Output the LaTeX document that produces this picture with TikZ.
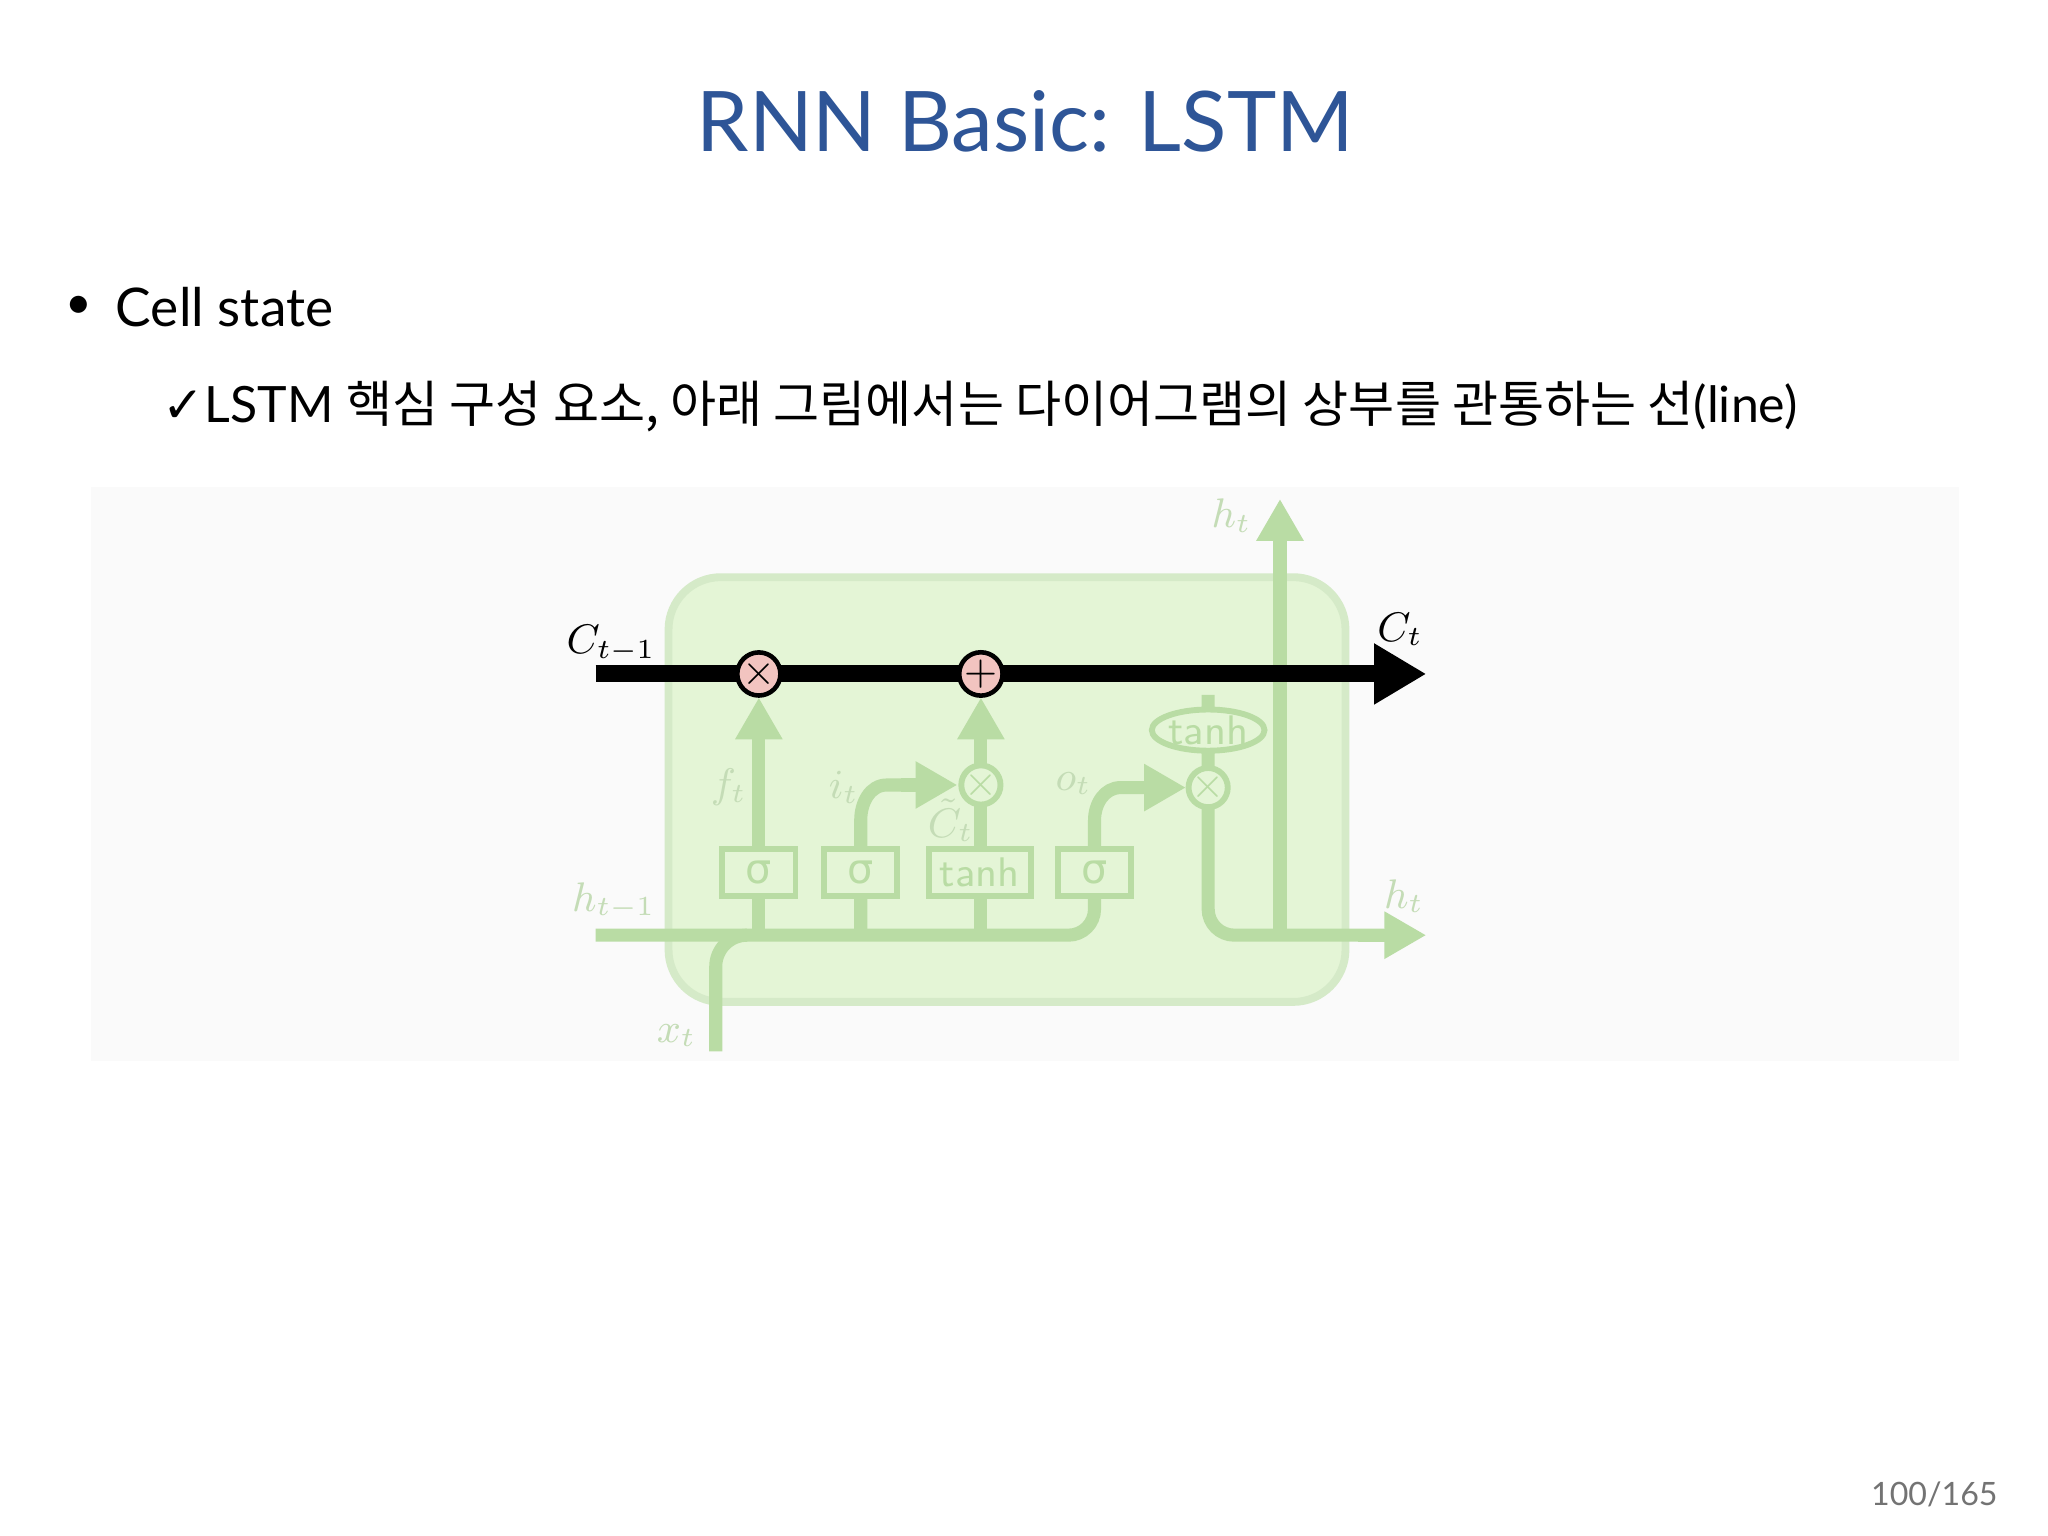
\documentclass[tikz,border=0pt]{standalone}
\usepackage{fontspec}
\setmainfont{Lato}
\newfontfamily\kr{Noto Sans CJK KR}
\newfontfamily\djv{DejaVu Sans}
\usetikzlibrary{arrows.meta,shapes.geometric}
\definecolor{ttl}{HTML}{2E5597}
\definecolor{fad}{HTML}{B9DCA4}
\definecolor{fadt}{HTML}{C4DCB6}
\definecolor{cellg}{HTML}{E4F5D6}
\definecolor{pinkc}{HTML}{F2C4C0}
\tikzset{
 fline/.style={draw=fad,line width=1.0mm},
 ftip/.style={-{Triangle[length=3.2mm,width=3.4mm]}},
 fbox/.style={draw=fad,line width=0.45mm,fill=cellg,minimum height=0.36cm,text=fad,font=\sffamily\small,inner sep=1pt},
 fcirc/.style={draw=fad,line width=0.45mm,fill=cellg,circle,minimum size=0.3cm,inner sep=0,text=fad,font=\sffamily\small},
 flab/.style={text=fadt,font=\small},
 pc/.style={circle,draw=black,line width=0.35mm,fill=pinkc,minimum size=0.33cm,inner sep=0,font=\sffamily\small}
}
\begin{document}
\begin{tikzpicture}[x=0.01cm,y=-0.01cm]
\path[fill=white] (0,0) rectangle (1568,1176);
\node[text=ttl,font=\fontsize{18.2}{22}\selectfont] (title) at (785,93) {RNN Basic: LSTM};
\node[font=\fontsize{10}{12}\selectfont] (bul) at (60,235) {•};
\node[anchor=west,font=\fontsize{11.6}{14}\selectfont,inner sep=0] (cs) at (88,235) {Cell state};
\node[anchor=west,font=\fontsize{10.9}{13}\selectfont,inner sep=0] (sub) at (124,311) {{\djv ✓}LSTM {\kr 핵심 구성 요소, 아래 그림에서는 다이어그램의 상부를 관통하는 선}(line)};
\path[fill=black!2] (70,373) rectangle (1500,812);
\node[draw=fad!60,line width=0.6mm,fill=cellg,rounded corners=0.4cm,minimum width=5.18cm,minimum height=3.25cm] (cell) at (771,604.5) {};
\draw[fline] (456,716) -- (818,716) to[out=0,in=-90] (838,696) -- (838,628) to[out=90,in=180] (858,603) -- (880,603);
\draw[fline,ftip] (860,603) -- (908,603);
\draw[fline] (548,805) -- (548,740) to[out=90,in=180] (572,716);
\draw[fline] (581,716) -- (581,560);
\draw[fline,ftip] (581,570) -- (581,534);
\draw[fline] (659,716) -- (659,628) to[out=90,in=180] (679,601) -- (700,601);
\draw[fline,ftip] (690,601) -- (733,601);
\draw[fline] (751,716) -- (751,560);
\draw[fline,ftip] (751,570) -- (751,534);
\draw[fline] (925,532) -- (925,696) to[out=-90,in=180] (945,716) -- (1060,716);
\draw[fline,ftip] (1040,716) -- (1092,716);
\draw[fline] (980,716) -- (980,420);
\draw[fline,ftip] (980,430) -- (980,382);
\node[fbox,minimum width=0.56cm,font=\djv\small] (s1) at (581,668) {σ};
\node[fbox,minimum width=0.56cm,font=\djv\small] (s2) at (659,668) {σ};
\node[fbox,minimum width=0.78cm] (th) at (750,668) {tanh};
\node[fbox,minimum width=0.56cm,font=\djv\small] (s3) at (838,668) {σ};
\node[fcirc] (m1) at (751,601) {×};
\node[fcirc] (m2) at (925,603) {×};
\node[draw=fad,line width=0.45mm,fill=cellg,ellipse,minimum width=0.78cm,minimum height=0.3cm,inner sep=0,text=fad,font=\sffamily\small] (te) at (925,559) {tanh};
\node[flab] at (558,603) {$f_t$};
\node[flab] at (646,603) {$i_t$};
\node[flab,inner sep=0] at (728,628) {$\tilde C_t$};
\node[flab] at (822,600) {$o_t$};
\node[flab] at (943,395) {$h_t$};
\node[flab] at (1075,686) {$h_t$};
\node[flab] at (470,690) {$h_{t-1}$};
\node[flab] at (518,793) {$x_t$};
\coordinate (cin) at (456,516);
\coordinate (cout) at (1092,516);
\draw[line width=1.3mm,-{Triangle[length=4mm,width=4.4mm]}] (cin) -- (cout);
\node[pc] (x1) at (581,516) {×};
\node[pc] (p1) at (751,516) {+};
\node[font=\small] at (468,493) {$C_{t-1}$};
\node[font=\small] at (1072,482) {$C_t$};
\node[text=black!55,font=\fontsize{7}{8}\selectfont] (pg) at (1481,1144) {100/165};
\end{tikzpicture}
\end{document}
